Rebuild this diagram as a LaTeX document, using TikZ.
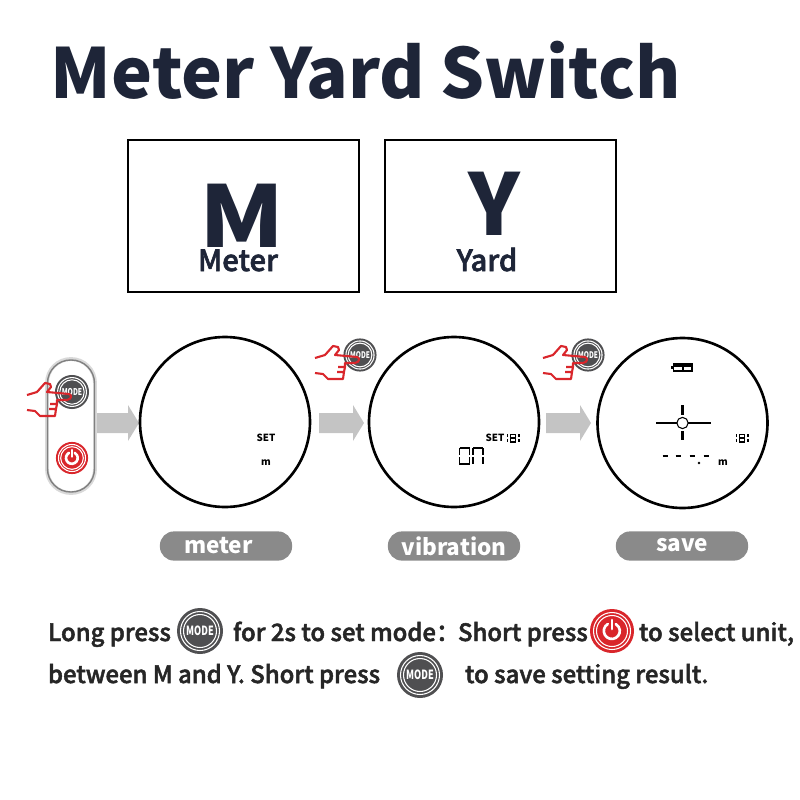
\documentclass[tikz,border=0pt]{standalone}
\usepackage{fontspec}
\setmainfont{Noto Sans CJK SC}
\newfontfamily\bodyfont[FakeBold=2]{Noto Sans CJK SC Medium}
\usepackage{tikz}

\definecolor{titlenavy}{HTML}{1E2538}
\definecolor{btngrey}{HTML}{4F4F51}
\definecolor{btnred}{HTML}{D9262B}
\definecolor{pillgrey}{HTML}{8A8A8A}
\definecolor{arrowgrey}{HTML}{C4C4C4}

\tikzset{
  px/.style={inner sep=0pt,outer sep=0pt},
  titletext/.style={px,text=titlenavy,font=\fontsize{19.65}{22}\selectfont\bfseries},
  bigletter/.style={px,text=titlenavy,font=\fontsize{24.2}{28}\selectfont\bfseries},
  unittext/.style={px,text=titlenavy,font=\fontsize{8.3}{10}\selectfont\bodyfont},
  bodytext/.style={px,anchor=base west,text=black!85,font=\fontsize{6.8}{8}\selectfont\bodyfont},
  lcdtext/.style={px,font=\fontsize{2.8}{3}\selectfont\bfseries},
  pill/.style={px,fill=pillgrey,text=white,rounded corners=4pt,minimum width=37.6pt,minimum height=8.3pt,
    font=\fontsize{6.4}{8}\selectfont\bfseries},
  unitbox/.style={draw=black,line width=0.5pt},
  scopecircle/.style={draw=black,line width=0.75pt},
  seg/.style={line width=0.4pt},
  modebtn/.pic={
    \fill[btngrey] (0,0) circle (23);
    \draw[white,line width=0.3pt] (0,0) circle (19.5);
    \draw[white,line width=0.3pt] (0,0) circle (16.5);
    \node (-label) [px,text=white,transform shape,xscale=0.72,font=\fontsize{3.6}{4}\selectfont\bfseries] at (0,0) {MODE};
  },
  powerbtn/.pic={
    \fill[btnred] (0,0) circle (22);
    \draw[white,line width=0.3pt] (0,0) circle (18.5);
    \draw[white,line width=0.3pt] (0,0) circle (15.5);
    \draw[white,line width=0.75pt,line cap=round] (-4.2,-7) arc (-120:-420:8);
    \draw[white,line width=0.75pt,line cap=round] (0,-11) -- (0,-2);
  },
  hand/.pic={
    \draw[btnred,line width=0.6pt,line join=round]
      (-45,3) -- (-35,0) -- (-27,-9) -- (-22,-8) -- (-21,-5) -- (-25,0)
      -- (-3,2) .. controls (0,3) and (0,7) .. (-5,8) -- (-15,8) -- (-15,12) -- (-22,12)
      (-15,12) -- (-16,17) -- (-23,17) (-16,17) -- (-17,24) -- (-32,24) -- (-37,19) -- (-45,18);
  },
  blockarrow/.pic={
    \fill[arrowgrey] (0,-10) -- (#1-11,-10) -- (#1-11,-18) -- (#1,0) -- (#1-11,18) -- (#1-11,10) -- (0,10) -- cycle;
  },
  vibicon/.pic={
    \draw[seg] (-2.3,-3.8) rectangle (2.3,3.8);
    \draw[seg] (-2.3,0) -- (2.3,0);
    \draw[seg] (-5.8,-4) -- (-5.8,-1) (-5.8,1) -- (-5.8,4) (5.8,-4) -- (5.8,-1) (5.8,1) -- (5.8,4);
  }
}

\begin{document}
\begin{tikzpicture}[x=0.01cm,y=-0.01cm]
    \useasboundingbox (0,0) rectangle (800,800);

    \coordinate (ca) at (225,422);
    \coordinate (cb) at (454,422);
    \coordinate (cc) at (682.5,423);

    % heading
    \node (title) [titletext,anchor=base west] at (51,98) {Meter Yard Switch};

    % unit boxes
    \draw[unitbox] (128,140) rectangle (359,292);
    \draw[unitbox] (385,140) rectangle (616,292);
    \node (M) [bigletter,anchor=base,transform shape,xscale=1.14] at (242,247) {M};
    \node (Y) [bigletter,anchor=base] at (494,235) {Y};
    \node (meterunit) [unittext,anchor=base] at (238,271) {Meter};
    \node (yardunit) [unittext,anchor=base] at (487,271) {Yard};

    % remote
    \draw[draw=black!15,fill=white,line width=1.1pt,rounded corners=6.8pt] (47,359) rectangle (95,493);
    \draw[draw=black!50,line width=0.4pt,rounded corners=6.6pt] (47.5,360) rectangle (94.5,492);
    \pic at (72,392) [scale=0.74] {modebtn};
    \pic at (72,458) [scale=0.73] {powerbtn};
    \pic at (72,392) {hand};

    % arrows and hands
    \pic at (97,423) {blockarrow=42};
    \pic at (319,423) {blockarrow=45};
    \pic at (546,423) {blockarrow=45};
    \pic at (360,355) [scale=0.72] {modebtn};
    \pic at (360,355) {hand};
    \pic at (588,355) [scale=0.72] {modebtn};
    \pic at (588,355) {hand};

    % scope views
    \draw[scopecircle] (ca) circle (85);
    \draw[scopecircle] (cb) circle (85);
    \draw[scopecircle] (cc) circle (85);

    \node (seta) [lcdtext] at (266,438) {SET};
    \node (ma) [lcdtext] at (266,463) {m};

    \node (setb) [lcdtext] at (495,438) {SET};
    \pic at (513,438) {vibicon};
    \draw[seg] (459.5,448) -- (469.5,448) (459.5,448) -- (459.5,455) (459.5,457) -- (459.5,464) -- (469.5,464)
      (469.5,448) -- (469.5,455) (469.5,457) -- (469.5,464) (473,448) -- (483,448) (473,448) -- (473,455)
      (473,457) -- (473,464) (483,448) -- (483,455) (483,457) -- (483,464);

    \draw[line width=0.45pt] (673.5,364) rectangle (692,371);
    \fill (673.5,364) rectangle (692,366.5);
    \draw[seg] (683,366) -- (683,371);
    \draw[line width=0.5pt] (672,366) -- (672,369);
    \node (crosshair) [px,draw=black,line width=0.3pt,circle,minimum size=3.2pt] at (cc) {};
    \draw[line width=0.35pt] (656,423) -- (crosshair);
    \draw[line width=0.35pt] (crosshair) -- (711,423);
    \draw[line width=0.7pt] (682.5,405) -- (682.5,415);
    \draw[line width=0.7pt] (682.5,431) -- (682.5,440);
    \pic at (742,438) {vibicon};
    \foreach \dashx in {662.5,675.5,689.5,703.5} {
      \draw[line width=0.5pt] (\dashx,456) -- ++(5,0);
    }
    \fill (699,463) circle (1.3);
    \node (mc) [lcdtext] at (723,463) {m};

    % pills
    \node (meter) [pill] at (226,546) {meter\kern4.3pt\relax};
    \node (vibration) [pill] at (454,546) {vibration};
    \node (save) [pill] at (682,546) {\raisebox{0.5pt}{save}};

    % instructions
    \node (tla) [bodytext] at (48,641) {Long press};
    \pic at (200,631) {modebtn};
    \node (tlb) [bodytext] at (233,641) {for 2s to set mode：};
    \node (tlc) [bodytext] at (458,641) {Short press};
    \pic at (612,631) {powerbtn};
    \node (tld) [bodytext] at (639,641) {to select unit,};
    \node (tle) [bodytext] at (48,683) {between M and Y. Short press};
    \pic at (420,675) {modebtn};
    \node (tlf) [bodytext] at (465,683) {to save setting result.};
\end{tikzpicture}
\end{document}
